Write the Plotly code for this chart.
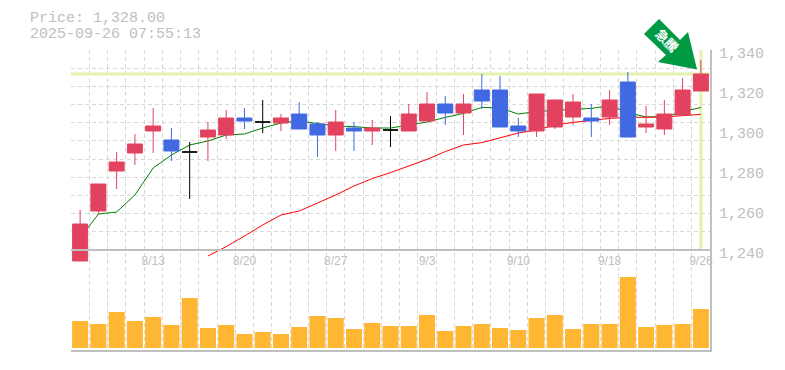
import plotly.graph_objects as go

W, H = 785, 370
OFF = 8  # the page body's default margin shifts the figure
PL, PR, PT, PB = 71, 710, 50, 350
MID = 250

dates = {4: "8/13", 9: "8/20", 14: "8/27", 19: "9/3", 24: "9/10", 29: "9/18", 34: "9/26"}
price_ticks = [1340, 1320, 1300, 1280, 1260, 1240]
price_labels = ["1,340", "1,320", "1,300", "1,280", "1,260", "1,240"]

opens = [1234.5, 1259.5, 1279.5, 1288.5, 1299.5, 1295, 1289, 1296.5, 1297.5, 1306, 1304, 1303.5,
         1308, 1303, 1297.5, 1301, 1299.5, 1300, 1299.5, 1304.5, 1313, 1308.5, 1320, 1320, 1302,
         1299.5, 1301.5, 1306.5, 1306, 1306.5, 1324, 1301.5, 1300.5, 1307.5, 1319.5]
highs = [1260, 1273, 1289, 1298, 1311, 1301, 1294, 1304, 1310, 1311, 1315, 1308,
         1314, 1304, 1310, 1304, 1305, 1307, 1313, 1319, 1317, 1318, 1328, 1327, 1306,
         1318, 1315, 1318, 1313, 1320, 1329, 1312, 1315, 1326, 1335]
lows = [1234.5, 1257.5, 1270.5, 1282.5, 1288.5, 1284.5, 1265.5, 1284.5, 1295.5, 1300.5, 1298.5, 1299.5,
        1300.5, 1286.5, 1289.5, 1289.5, 1292.5, 1291.5, 1299.5, 1304.5, 1302.5, 1297.5, 1310.5, 1301.5, 1296.5,
        1296.5, 1300.5, 1302.5, 1296.5, 1302.5, 1296.5, 1298.5, 1297.5, 1307.5, 1319.5]
closes = [1253, 1273, 1284, 1293, 1302, 1289.5, 1289, 1300, 1306, 1304.5, 1304, 1306,
          1300.5, 1297.5, 1304, 1299.5, 1301, 1300, 1308, 1313, 1308.5, 1313, 1314.5, 1301.5, 1299.5,
          1318, 1315, 1314, 1304.5, 1315, 1296.5, 1303, 1308, 1320, 1328]
ma_short = [1246, 1258, 1259, 1267.5, 1281, 1287.5, 1292.5, 1294.5, 1297.5, 1298, 1301, 1303.5,
            1304.5, 1303.3, 1302, 1301.7, 1301, 1301, 1302.5, 1304, 1306.3, 1308.3, 1311.3, 1311, 1308,
            1309.2, 1309.8, 1310.2, 1310.8, 1312.2, 1308.7, 1306.5, 1306.7, 1309, 1311.3]
ma_long = [None] * 7 + [1237, 1241.7, 1247, 1252.5, 1257.5, 1259.5, 1263.5, 1267.5, 1272, 1275.7,
                        1278.7, 1282, 1285.3, 1289.2, 1292.5, 1293.7, 1296.2, 1298.5,
                        1300, 1302.5, 1303.8, 1304.8, 1305.8, 1306.3, 1306.3, 1306.5, 1307.2, 1307.8]
volumes = [27, 24, 36, 27, 31, 23, 50, 20, 23, 14, 16, 14, 21, 32, 30, 19, 25, 22,
           22, 33, 17, 22, 24, 20, 18, 30, 33, 19, 24, 24, 71, 21, 23, 24, 39]

price_text = "Price: 1,328.00"
time_text = "2025-09-26 07:55:13"
badge_text = "<b>急騰</b>"

RED, BLUE, BLACK = "#e2425f", "#4169e1", "#000000"
GRAY, GRID, GUIDE, AMBER, BADGE = "#c0c0c0", "#d8d8d8", "#e4f2ae", "#ffb733", "#009944"
MONO = "Liberation Mono"

n = len(closes)
xs = list(range(n))
x_range = [-0.5, n - 0.5]
# y axis spans the whole plot height: 2 px per yen
y_range = [1340 - (PB - PT) / 2, 1340]
y_grid = [1340 - i * 100 / 11 for i in range(12)]
x_grid = [i - 0.5 for i in range(n + 1)]
last_close = closes[-1]


def idx(kind):
    out = []
    for i in xs:
        k = "flat" if opens[i] == closes[i] else ("up" if closes[i] > opens[i] else "down")
        if k == kind:
            out.append(i)
    return out


fig = go.Figure()
# guides and moving averages sit beneath the candles
fig.add_trace(go.Scatter(x=x_range, y=[last_close, last_close], mode="lines",
                         line=dict(color=GUIDE, width=3), hoverinfo="skip"))
fig.add_trace(go.Scatter(x=[n - 1, n - 1], y=[1240, 1340], mode="lines",
                         line=dict(color=GUIDE, width=3), hoverinfo="skip"))
fig.add_trace(go.Scatter(x=xs, y=ma_short, mode="lines", line=dict(color="#008000", width=1)))
fig.add_trace(go.Scatter(x=xs, y=ma_long, mode="lines", line=dict(color="#ff0000", width=1)))

fig.add_trace(go.Bar(x=xs, y=volumes, marker=dict(color=AMBER, line=dict(width=0)),
                     xaxis="x2", yaxis="y2", width=0.88))

for kind, col in (("up", RED), ("down", BLUE), ("flat", BLACK)):
    ii = idx(kind)
    side = dict(line=dict(color=col, width=1), fillcolor=col)
    fig.add_trace(go.Candlestick(
        x=ii, open=[opens[i] for i in ii], high=[highs[i] for i in ii],
        low=[lows[i] for i in ii], close=[closes[i] for i in ii],
        increasing=side, decreasing=side, whiskerwidth=0, xaxis="x3", yaxis="y3"))

fy = lambda px: 1 - (px - PT) / (PB - PT)
fx = lambda px: (px - PL) / (PR - PL)
fig.update_layout(
    width=W - OFF, height=H - OFF, showlegend=False,
    paper_bgcolor="#ffffff", plot_bgcolor="rgba(0,0,0,0)",
    margin=dict(l=PL - OFF, r=W - PR, t=PT - OFF, b=H - PB, pad=0, autoexpand=False),
    boxmode="overlay", boxgap=0.178, boxgroupgap=0, bargap=0.12,
    xaxis=dict(range=x_range, showline=True, linecolor=GRAY, linewidth=2, mirror=False,
               showticklabels=False, ticks="", showgrid=False, zeroline=False,
               minor=dict(tickvals=x_grid, showgrid=True, gridcolor=GRID, griddash="4px,3px",
                          gridwidth=1, ticks="")),
    yaxis=dict(range=y_range, side="right", showline=True, linecolor=GRAY, linewidth=2,
               tickvals=price_ticks, ticktext=price_labels, ticks="", showgrid=False, zeroline=False,
               ticklabelstandoff=4, ticklabelshift=3, tickfont=dict(family=MONO, size=15, color=GRAY),
               minor=dict(tickvals=y_grid, showgrid=True, gridcolor=GRID, griddash="4px,3px",
                          gridwidth=1, ticks="")),
    xaxis2=dict(range=x_range, overlaying="x", anchor="free", position=fy(MID), showline=True,
                linecolor=GRAY, linewidth=2, showgrid=False, zeroline=False, ticks="",
                tickvals=list(dates), ticktext=list(dates.values()),
                tickfont=dict(family="Liberation Sans", size=12, color=GRAY)),
    yaxis2=dict(range=[-2, 98], domain=[0, fy(MID)], visible=False, anchor="x2"),
    xaxis3=dict(range=x_range, overlaying="x", visible=False, rangeslider=dict(visible=False)),
    yaxis3=dict(range=y_range, overlaying="y", visible=False),
    shapes=[dict(type="path", xref="paper", yref="paper", fillcolor=BADGE, line=dict(width=0), layer="above",
                 path=" ".join(
                     f"{c} {fx(x):.4f} {fy(y):.4f}" for c, x, y in
                     [("M", 697, 69.5), ("L", 658, 62), ("L", 666, 55), ("L", 644, 34),
                      ("L", 659, 19), ("L", 680, 40), ("L", 688, 32)]) + " Z")],
    annotations=[
        dict(text=price_text, xref="paper", yref="paper", x=fx(29), y=fy(18.5), borderpad=0,
             xanchor="left", yanchor="middle", showarrow=False, font=dict(family=MONO, size=15, color=GRAY)),
        dict(text=time_text, xref="paper", yref="paper", x=fx(29), y=fy(34.5), borderpad=0,
             xanchor="left", yanchor="middle", showarrow=False, font=dict(family=MONO, size=15, color=GRAY)),
        dict(text=badge_text, xref="paper", yref="paper", x=fx(666.5), y=fy(40),
             xanchor="center", yanchor="middle", showarrow=False, textangle=45,
             font=dict(family="Noto Sans CJK JP", size=13, color="#ffffff")),
    ],
)
fig.write_html("out.html")
